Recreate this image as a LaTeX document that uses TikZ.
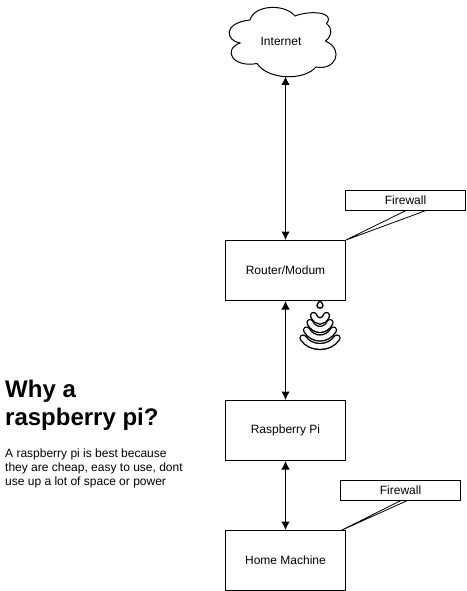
\documentclass[tikz,border=0pt]{standalone}
\usepackage{fontspec}
\setmainfont{Liberation Sans}
\usetikzlibrary{arrows.meta}
\tikzset{
  box/.style={draw=black,fill=white,line width=1pt,minimum width=120pt,minimum height=60pt,inner sep=0pt,font=\fontsize{12}{14}\selectfont},
  callout/.style={draw=black,fill=white,line width=1pt,minimum width=120pt,minimum height=20pt,inner sep=0pt,font=\fontsize{12}{14}\selectfont},
  link/.style={line width=1pt,{Latex[length=8.5pt,width=8.5pt]}-{Latex[length=8.5pt,width=8.5pt]}},
  ptr/.style={line width=0.8pt,line join=miter},
  wave/.style={line width=1.4pt,line join=round,fill=white},
  waveout/.style={line width=7.4pt,line cap=round,draw=black},
  wavein/.style={line width=4.6pt,line cap=round,draw=white},
  heading/.style={anchor=north west,align=left,inner sep=0pt,font=\fontsize{24}{28}\selectfont\bfseries},
  bodytext/.style={anchor=north west,align=left,inner sep=0pt,font=\fontsize{12}{14.2}\selectfont}
}
\begin{document}
\begin{tikzpicture}[x=1pt,y=-1pt]
\useasboundingbox (0,0) rectangle (466,591);
% cloud
\coordinate (c1) at (240,43);
\draw[line width=1pt,fill=white]
 (c1) .. controls (226,41) and (222,23) .. (250,20)
 .. controls (254,5) and (284,3) .. (295,16)
 .. controls (310,10) and (336,12) .. (326.5,23.5)
 .. controls (333,29) and (332,36) .. (325.5,41)
 .. controls (345,50) and (335,71) .. (316,67)
 .. controls (304,81) and (268,80) .. (257,63.5)
 .. controls (233,68) and (222,50) .. (c1) -- cycle;
\node[font=\fontsize{12}{14}\selectfont] (inet) at (281,41) {Internet};
\node[box] (router) at (285.5,270.5) {\raisebox{-1pt}{Router/Modum}};
\node[box] (pi) at (285.5,430.5) {\raisebox{-1pt}{Raspberry Pi}};
\node[box] (home) at (285.5,560.5) {\raisebox{-1pt}{Home Machine}};
\node[callout] (fw1) at (405.5,200.5) {Firewall};
\node[callout] (fw2) at (400.5,490.5) {Firewall};
\coordinate (cloudbot) at (285.5,76.5);
\draw[link] (cloudbot) -- (router.north);
\draw[link] (router.south) -- (pi.north);
\draw[link] (pi.south) -- (home.north);
% callout wedges
\coordinate (w1a) at (406,210.5);
\coordinate (w1b) at (426,210.5);
\coordinate (w2a) at (401,500.5);
\coordinate (w2b) at (407.5,500.5);
\coordinate (w2t) at (341,530.5);
\draw[ptr] (w1a) -- (router.north east) -- (w1b);
\draw[ptr] (w2a) -- (w2t) -- (w2b);
% signal icon
\foreach \w/\t/\s in {17/338/8.5, 13.5/330/8, 10/322.5/7, 6.5/315.5/5.5}{
  \draw[waveout] ({320-\w},\t)
    .. controls ({320-0.55*\w},{\t+\s/0.75}) and ({320+0.55*\w},{\t+\s/0.75}) .. ({320+\w},\t);
  \draw[wavein] ({320-\w},\t)
    .. controls ({320-0.55*\w},{\t+\s/0.75}) and ({320+0.55*\w},{\t+\s/0.75}) .. ({320+\w},\t);
}
\draw[wave] (320,300.5) .. controls (318.5,303) and (317,304) .. (317,305.5)
  .. controls (317,309) and (323,309) .. (323,305.5)
  .. controls (323,304) and (321.5,303) .. (320,300.5) -- cycle;
% text
\node[heading] (title) at (5,380) {Why a\\raspberry pi?};
\node[bodytext] (body) at (5,448.5) {A raspberry pi is best because\\they are cheap, easy to use, dont\\use up a lot of space or power};
\end{tikzpicture}
\end{document}
